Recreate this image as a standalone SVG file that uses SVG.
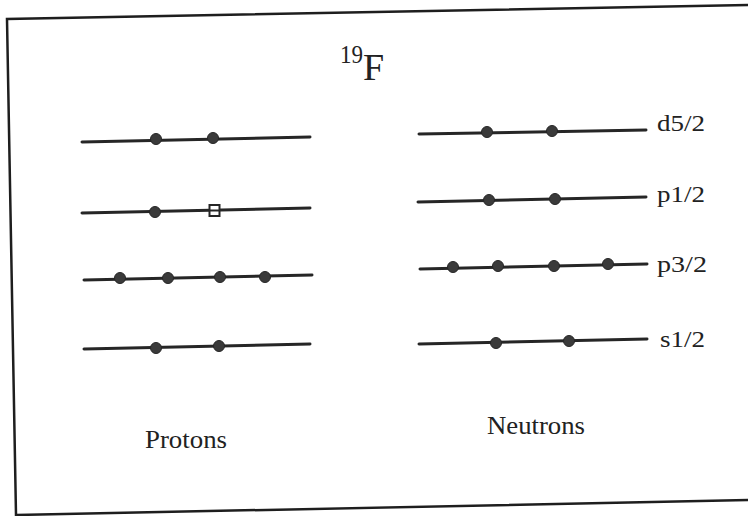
<svg xmlns="http://www.w3.org/2000/svg" width="748" height="516" viewBox="0 0 748 516">
<style>
.lvl{stroke:#262626;stroke-width:3;fill:none;stroke-linecap:round}
.dot{fill:#3a3a3a;stroke:#262626;stroke-width:1}
.hole{fill:#fff;stroke:#262626;stroke-width:2}
.frame{stroke:#1e1e1e;stroke-width:2.5;fill:none}
text{font-family:"Liberation Serif","Times New Roman",serif;fill:#222}
.lab{font-size:24px}
.cap{font-size:26px}
</style>
<rect width="748" height="516" fill="#fff"/>
<path class="frame" d="M750,5 L7,19 L16,515 L750,500"/>
<g id="title">
<text x="340" y="63" font-size="25" textLength="23" lengthAdjust="spacingAndGlyphs">19</text>
<text x="363" y="80" font-size="38">F</text>
</g>
<g id="protons">
<g id="p-d52">
<line class="lvl" x1="82" y1="142" x2="310" y2="137"/>
<circle class="dot" cx="156" cy="139" r="5.5"/>
<circle class="dot" cx="213" cy="138" r="5.5"/>
</g>
<g id="p-p12">
<line class="lvl" x1="82" y1="213" x2="310" y2="208"/>
<circle class="dot" cx="155" cy="212" r="5.5"/>
<rect class="hole" x="209.5" y="205" width="10" height="11"/>
<line x1="209.5" y1="210.5" x2="219.5" y2="210.5" stroke="#262626" stroke-width="2"/>
</g>
<g id="p-p32">
<line class="lvl" x1="84" y1="280" x2="312" y2="275"/>
<circle class="dot" cx="120" cy="278" r="5.5"/>
<circle class="dot" cx="168" cy="278" r="5.5"/>
<circle class="dot" cx="220" cy="277" r="5.5"/>
<circle class="dot" cx="265" cy="277" r="5.5"/>
</g>
<g id="p-s12">
<line class="lvl" x1="84" y1="349" x2="310" y2="344"/>
<circle class="dot" cx="156" cy="348" r="5.5"/>
<circle class="dot" cx="219" cy="346" r="5.5"/>
</g>
<text class="cap" x="145" y="448" textLength="82" lengthAdjust="spacingAndGlyphs">Protons</text>
</g>
<g id="neutrons">
<g id="n-d52">
<line class="lvl" x1="419" y1="134" x2="646" y2="130"/>
<circle class="dot" cx="487" cy="132" r="5.5"/>
<circle class="dot" cx="552" cy="131" r="5.5"/>
<text class="lab" x="657" y="131" textLength="48" lengthAdjust="spacingAndGlyphs">d5/2</text>
</g>
<g id="n-p12">
<line class="lvl" x1="418" y1="202" x2="646" y2="197"/>
<circle class="dot" cx="489" cy="200" r="5.5"/>
<circle class="dot" cx="555" cy="199" r="5.5"/>
<text class="lab" x="657" y="202" textLength="48" lengthAdjust="spacingAndGlyphs">p1/2</text>
</g>
<g id="n-p32">
<line class="lvl" x1="420" y1="269" x2="647" y2="264"/>
<circle class="dot" cx="453" cy="267" r="5.5"/>
<circle class="dot" cx="498" cy="266" r="5.5"/>
<circle class="dot" cx="554" cy="266" r="5.5"/>
<circle class="dot" cx="608" cy="264" r="5.5"/>
<text class="lab" x="657" y="272" textLength="50" lengthAdjust="spacingAndGlyphs">p3/2</text>
</g>
<g id="n-s12">
<line class="lvl" x1="419" y1="344" x2="647" y2="339"/>
<circle class="dot" cx="496" cy="343" r="5.5"/>
<circle class="dot" cx="569" cy="341" r="5.5"/>
<text class="lab" x="660" y="347" textLength="45" lengthAdjust="spacingAndGlyphs">s1/2</text>
</g>
<text class="cap" x="487" y="434" textLength="98" lengthAdjust="spacingAndGlyphs">Neutrons</text>
</g>
</svg>
